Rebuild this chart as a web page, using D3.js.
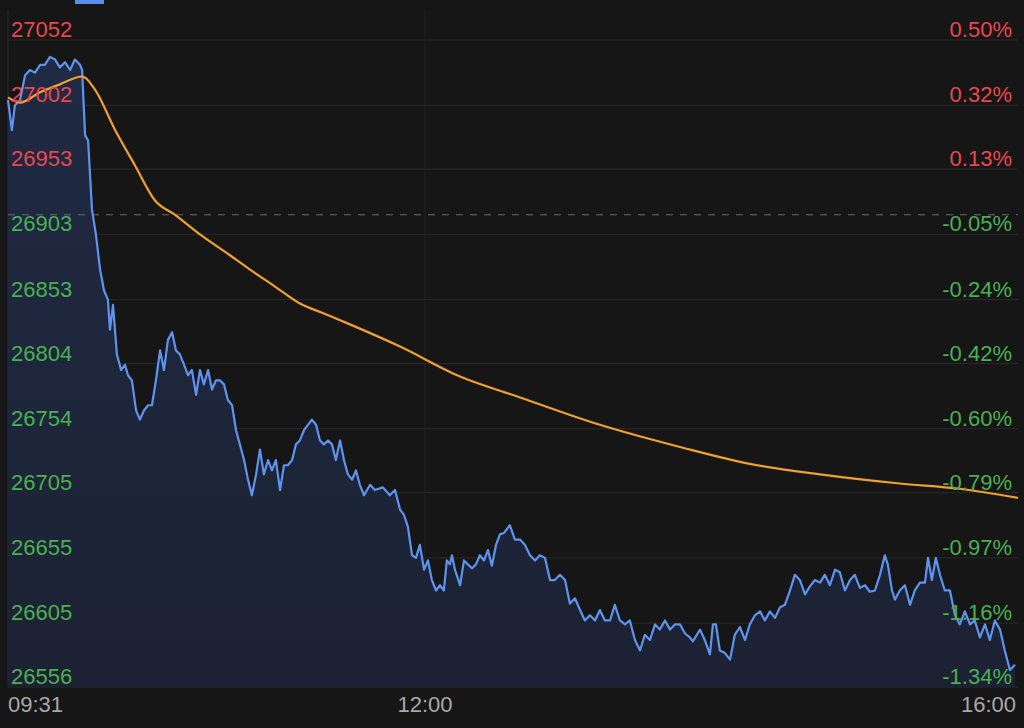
<!DOCTYPE html>
<html><head><meta charset="utf-8">
<script src="https://cdn.jsdelivr.net/npm/d3@7"></script>
<style>body{margin:0;background:#161616}svg{display:block}</style>
</head><body>
<svg id="chart" width="1024" height="728"></svg>
<script>
// intraday data (minute index since open)
const prevClose = 26918
const priceTicks = [27052, 27002, 26953, 26903, 26853, 26804, 26754, 26705, 26655, 26605, 26556]
const pctTicks = ["0.50%", "0.32%", "0.13%", "-0.05%", "-0.24%", "-0.42%", "-0.60%", "-0.79%", "-0.97%", "-1.16%", "-1.34%"]
const timeTicks = [{m: 0, t: "09:31"}, {m: 139, t: "12:00"}, {m: 336.7, t: "16:00"}]

const minutes = [0,1.3,2.3,4,5.7,7.3,9,10.7,12.3,14,15.7,17.3,19,20.7,22.3,24,24.7,25.7,26.7,28,29.3,30.7,32,33.3,34,35,36.3,37.7,39,40,41.3,42.7,44,45.3,46.7,48,49.3,50.7,52,53.3,54.7,56,57.3,58.7,60,61.3,62.7,64,65.3,66.7,68,69.3,70.7,72,73.3,74.7,76,77.3,78.7,80,81.3,82.7,84,85.3,86.7,88,89.3,90.7,92,93.3,94.7,96,97.3,98.7,100,101.3,102.7,104,105.3,106.7,108,109.3,110.7,112,113.3,114.7,116,117.3,118.7,120.7,122.3,125,127.3,129,130.7,132,133.3,134.7,136,137.3,138.7,140,141.3,142.7,144,145.3,146.3,147.3,148,149,150.7,152,153.3,154.7,156,157.3,158.7,160,161.3,162.7,164,165.3,167.3,169,170.7,172.3,174,175.7,177.3,179,180.7,182.3,184,185.7,187.3,189,190.7,192.3,194,195.7,197.3,199,200.7,202.3,204,205.7,207.3,209,210.7,212.3,214,215.7,217.3,219,220.7,222.3,224,225.7,227.3,228.3,230.7,232.3,234,235,236,237.3,239,240.7,242.3,244,245.7,247.3,249,250.7,252.3,254,255.7,257.3,259,260.7,262.3,264,265.7,267.3,269,270.7,272.3,274,275.7,277.3,279,280.7,282.3,284,285.7,287.3,289,290.7,292.3,293.3,294.7,295.7,297.3,299,300.7,302.3,304,305.7,306.7,308,309.3,310.7,312.3,314,315.7,317.3,319,320.7,322.3,324,325.7,327.3,329,330.7,332.3,334,335.7]
const prices = [27006,26983,27002,27006,27025,27029,27027,27033,27033,27039,27037,27031,27035,27029,27037,27033,27029,26979,26975,26922,26903,26876,26860,26853,26830,26849,26811,26799,26803,26795,26791,26768,26761,26768,26772,26772,26791,26814,26799,26822,26828,26814,26811,26803,26795,26799,26780,26799,26788,26799,26784,26791,26791,26788,26776,26772,26753,26742,26730,26715,26703,26719,26738,26719,26730,26722,26730,26707,26726,26726,26730,26742,26745,26753,26757,26761,26757,26745,26742,26745,26742,26730,26745,26730,26719,26715,26722,26711,26703,26711,26707,26709,26703,26707,26692,26688,26679,26657,26655,26665,26646,26653,26638,26630,26634,26630,26653,26650,26657,26646,26634,26653,26650,26647,26650,26657,26653,26661,26649,26665,26673,26674,26680,26669,26669,26665,26657,26653,26657,26655,26638,26638,26642,26638,26620,26624,26615,26607,26611,26607,26615,26607,26607,26619,26607,26604,26607,26592,26584,26596,26592,26604,26600,26607,26600,26604,26604,26597,26594,26591,26600,26592,26581,26604,26604,26584,26582,26577,26596,26602,26592,26604,26611,26614,26607,26614,26609,26617,26619,26630,26642,26638,26627,26633,26638,26636,26642,26634,26646,26644,26630,26638,26642,26632,26634,26629,26630,26642,26657,26650,26630,26623,26630,26634,26619,26630,26636,26636,26655,26638,26655,26642,26630,26630,26611,26604,26614,26604,26607,26594,26604,26592,26607,26600,26584,26569,26573]

const avgMinutes = [0,4,10.7,17.3,24.7,29,35.7,42.3,49,55.7,64,74,80.7,89,97.3,105.7,114,130.7,150.7,170.7,197.3,224,247.3,270.7,297.3,317.3,336.7]
const avgPrices = [27008,27004,27012,27018,27024,27014,26983,26956,26929,26918,26903,26887,26876,26863,26850,26842,26834,26817,26794,26778,26757,26740,26727,26719,26712,26708,26701]

const svg = d3.select("#chart")
const padL = 8, padR = 1018, padT = 40, padB = 687

const x = d3.scaleLinear().domain([0, 336.7]).range([padL, padR])
const y = d3.scaleLinear().domain([26556, 27052]).range([padB, padT])

const n = Math.min(minutes.length, prices.length)
const data = minutes.slice(0, n).map((m, i) => ({m: m, v: prices[i]}))
const avg = avgMinutes.map((m, i) => ({m: m, v: avgPrices[i]}))

// top tab
svg.append("rect").attr("x", 75).attr("y", 0).attr("width", 29).attr("height", 4).attr("fill", "#5b8def")

// grid
svg.append("g").selectAll("line").data(priceTicks).join("line")
  .attr("x1", padL).attr("x2", padR)
  .attr("y1", d => y(d)).attr("y2", d => y(d))
  .attr("stroke", "#2a2a2c").attr("stroke-width", 1)
svg.append("line").attr("x1", padL).attr("x2", padL).attr("y1", 10).attr("y2", padB)
  .attr("stroke", "#2a2a2c")
svg.append("line").attr("x1", x(139)).attr("x2", x(139)).attr("y1", 10).attr("y2", padB)
  .attr("stroke", "#222224")

// area fill
const grad = svg.append("defs").append("linearGradient").attr("id", "fill")
  .attr("x1", 0).attr("y1", 0).attr("x2", 0).attr("y2", 1)
grad.append("stop").attr("offset", "0%").attr("stop-color", "#1f2a44")
grad.append("stop").attr("offset", "100%").attr("stop-color", "#1c2233")

svg.append("path").datum(data)
  .attr("d", d3.area().x(d => x(d.m)).y0(padB).y1(d => y(d.v)))
  .attr("fill", "url(#fill)")

// previous close
svg.append("line").attr("x1", padL).attr("x2", padR)
  .attr("y1", y(prevClose)).attr("y2", y(prevClose))
  .attr("stroke", "#6a6a6a").attr("stroke-dasharray", "7,7")

svg.append("path").datum(data)
  .attr("d", d3.line().x(d => x(d.m)).y(d => y(d.v)))
  .attr("fill", "none").attr("stroke", "#5f93f0").attr("stroke-width", 2.2)
  .attr("stroke-linejoin", "round")

svg.append("path").datum(avg)
  .attr("d", d3.line().curve(d3.curveMonotoneX).x(d => x(d.m)).y(d => y(d.v)))
  .attr("fill", "none").attr("stroke", "#f0a030").attr("stroke-width", 2.2)

// labels
const font = "'Liberation Sans', Arial, sans-serif"
const col = d => d > prevClose ? "#e8484d" : "#4caf50"
svg.append("g").selectAll("text").data(priceTicks).join("text")
  .attr("x", 11).attr("y", d => y(d) - 3)
  .attr("font-family", font).attr("font-size", 22)
  .attr("fill", col).text(d => d)
svg.append("g").selectAll("text").data(priceTicks).join("text")
  .attr("x", 1012).attr("y", d => y(d) - 3).attr("text-anchor", "end")
  .attr("font-family", font).attr("font-size", 22)
  .attr("fill", col).text((d, i) => pctTicks[i])

svg.append("g").selectAll("text").data(timeTicks).join("text")
  .attr("x", (d, i) => i === 0 ? 8 : i === 2 ? 1016 : x(d.m))
  .attr("y", 712)
  .attr("text-anchor", (d, i) => i === 0 ? "start" : i === 2 ? "end" : "middle")
  .attr("font-family", font).attr("font-size", 22)
  .attr("fill", "#a8a8a8").text(d => d.t)
</script>
</body></html>
